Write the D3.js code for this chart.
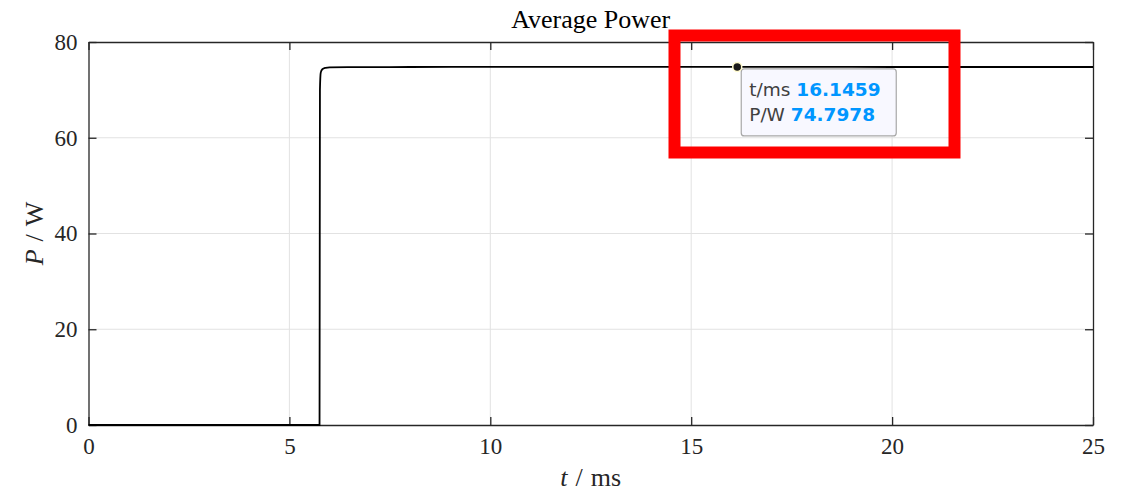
<!DOCTYPE html>
<html>
<head>
<meta charset="utf-8">
<script src="https://cdn.jsdelivr.net/npm/d3@7"></script>
<style>
body { margin: 0; background: #fff; }
</style>
</head>
<body>
<div id="chart"></div>
<script>
// data
var timeMs = [0, 5.75, 5.76, 5.78, 5.82, 5.9, 6.0, 7, 8, 10, 12, 14, 16.1459, 18, 20, 22, 24, 25];
var powerW = [0, 0, 70, 73.6, 74.3, 74.6, 74.72, 74.75, 74.78, 74.8, 74.8, 74.8, 74.7978, 74.79, 74.78, 74.78, 74.78, 74.78];
var xTicks = [0, 5, 10, 15, 20, 25];
var yTicks = [0, 20, 40, 60, 80];
var tipPoint = {t: 16.1459, p: 74.7978};

var svgWidth = 1132;
var svgHeight = 492;
var margin = {top: 42, right: 39, bottom: 67, left: 88.5};
var width = 1093 - margin.left;
var height = 425 - margin.top;

var svg = d3.select("#chart").append("svg")
    .attr("width", svgWidth)
    .attr("height", svgHeight);

var chartGroup = svg.append("g")
    .attr("transform", `translate(${margin.left}, ${margin.top})`);

var xScale = d3.scaleLinear().domain([0, 25]).range([0, width]);
var yScale = d3.scaleLinear().domain([0, 80]).range([height, 0]);

var serif = "'Liberation Serif', 'DejaVu Serif', serif";

//grid lines
chartGroup.append("g")
    .selectAll("line.gx")
    .data(xTicks.slice(1, -1))
    .enter().append("line")
    .attr("x1", d => xScale(d)).attr("x2", d => xScale(d))
    .attr("y1", 0).attr("y2", height)
    .attr("stroke", "#e2e2e2").attr("stroke-width", 1);
chartGroup.append("g")
    .selectAll("line.gy")
    .data(yTicks.slice(1, -1))
    .enter().append("line")
    .attr("x1", 0).attr("x2", width)
    .attr("y1", d => yScale(d)).attr("y2", d => yScale(d))
    .attr("stroke", "#e2e2e2").attr("stroke-width", 1);

//axes
var bottomAxis = d3.axisBottom(xScale).tickValues(xTicks).tickSizeInner(-8).tickSizeOuter(0).tickPadding(13);
var leftAxis = d3.axisLeft(yScale).tickValues(yTicks).tickSizeInner(-8).tickSizeOuter(0).tickPadding(11);
var topAxis = d3.axisTop(xScale).tickValues(xTicks).tickSizeInner(-8).tickSizeOuter(0).tickFormat("");
var rightAxis = d3.axisRight(yScale).tickValues(yTicks).tickSizeInner(-8).tickSizeOuter(0).tickFormat("");

function styleAxis(g) {
    g.select(".domain").attr("stroke", "#262626").attr("stroke-width", 1.3);
    g.selectAll(".tick line").attr("stroke", "#262626").attr("stroke-width", 1.3);
    g.selectAll(".tick text").attr("font-family", serif).attr("font-size", "23px").attr("fill", "#262626");
}

chartGroup.append("g").attr("transform", `translate(0, ${height})`).call(bottomAxis).call(styleAxis);
chartGroup.append("g").call(leftAxis).call(styleAxis);
chartGroup.append("g").call(topAxis).call(styleAxis);
chartGroup.append("g").attr("transform", `translate(${width}, 0)`).call(rightAxis).call(styleAxis);

//power line
var line = d3.line()
    .x((d, i) => xScale(timeMs[i]))
    .y(d => yScale(d))
    .curve(d3.curveMonotoneX);
chartGroup.append("path")
    .datum(powerW)
    .attr("d", line)
    .attr("fill", "none")
    .attr("stroke", "#000")
    .attr("stroke-width", 1.8);

//title and labels
svg.append("text")
    .attr("x", margin.left + width / 2)
    .attr("y", 28)
    .attr("text-anchor", "middle")
    .attr("font-family", serif)
    .attr("font-size", "26px")
    .attr("fill", "#000")
    .text("Average Power");

var xLab = svg.append("text")
    .attr("x", margin.left + width / 2)
    .attr("y", 486)
    .attr("text-anchor", "middle")
    .attr("font-family", serif)
    .attr("font-size", "26px")
    .attr("fill", "#262626");
xLab.append("tspan").attr("font-style", "italic").text("t");
xLab.append("tspan").attr("dx", 8).text("/");
xLab.append("tspan").attr("dx", 8).text("ms");

var yLab = svg.append("text")
    .attr("transform", `translate(43, ${margin.top + height / 2}) rotate(-90)`)
    .attr("text-anchor", "middle")
    .attr("font-family", serif)
    .attr("font-size", "26px")
    .attr("fill", "#262626");
yLab.append("tspan").attr("font-style", "italic").text("P");
yLab.append("tspan").attr("dx", 8).text("/");
yLab.append("tspan").attr("dx", 8).text("W");

//datatip
var px = xScale(tipPoint.t);
var py = yScale(tipPoint.p);
var tip = chartGroup.append("g");
tip.append("rect")
    .attr("x", px + 4).attr("y", py + 2)
    .attr("width", 155).attr("height", 67)
    .attr("rx", 3)
    .attr("fill", "#f8f8ff")
    .attr("stroke", "#a8a8a8")
    .attr("stroke-width", 1.2);
var sans = "'DejaVu Sans', sans-serif";
var rows = [["t/ms", tipPoint.t.toFixed(4)], ["P/W", tipPoint.p.toFixed(4)]];
rows.forEach(function (r, i) {
    var t = tip.append("text")
        .attr("x", px + 12)
        .attr("y", py + 29 + i * 25)
        .attr("font-family", sans)
        .attr("font-size", "18.5px");
    t.append("tspan").attr("fill", "#404040").text(r[0] + " ");
    t.append("tspan").attr("fill", "#0096ff").attr("font-weight", "bold").text(r[1]);
});
tip.append("circle")
    .attr("cx", px).attr("cy", py).attr("r", 4.5)
    .attr("fill", "#1a1a1a")
    .attr("stroke", "#fffacd")
    .attr("stroke-width", 1.5);

//red highlight frame
svg.append("rect")
    .attr("x", 674.5).attr("y", 35.5)
    .attr("width", 280).attr("height", 117)
    .attr("fill", "none")
    .attr("stroke", "#ff0000")
    .attr("stroke-width", 12);
</script>
</body>
</html>
